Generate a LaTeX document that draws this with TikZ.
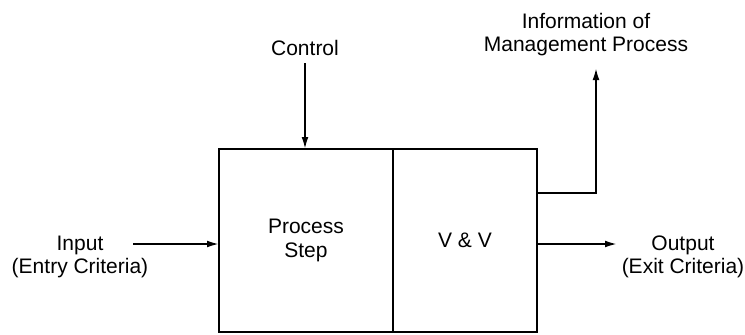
\documentclass[tikz,border=0pt]{standalone}
\usepackage{fontspec}
\setmainfont{Liberation Sans}
\usepackage{tikz}
\usetikzlibrary{arrows.meta,positioning}

\begin{document}
\begin{tikzpicture}[
  x=0.5pt, y=-0.5pt,
  part/.style={draw=black, line width=0.9pt, minimum height=91.5pt, inner sep=0pt, outer sep=0pt, align=center, font=\fontsize{10.5}{12}\selectfont},
  lbl/.style={align=center, inner sep=0pt, font=\fontsize{10.5}{11.5}\selectfont},
  arr/.style={-{Latex[length=6pt, width=3.4pt]}, line width=0.9pt, draw=black}
]
\useasboundingbox (0,0) rectangle (745,334);
\node[part, minimum width=87pt, anchor=north west] (proc) at (219,149) {Process\\Step};
\node[part, minimum width=72pt, right=0pt of proc] (vv) {\raisebox{-3.5pt}{V \& V}};
\node[lbl] (ctrl) at (305,48) {Control};
\node[lbl] (info) at (586,34.5) {Information of\\Management Process};
\node[lbl] (input) at (80,256.5) {Input\\(Entry Criteria)};
\node[lbl] (output) at (683,256.5) {Output\\(Exit Criteria)};
\coordinate (inS) at (133,244);
\coordinate (outE) at (617,244);
\coordinate (infoS) at (537,193);
\coordinate (infoE) at (596,68);
\draw[arr] (ctrl.south |- 0,63) -- (ctrl.south |- proc.north);
\draw[arr] (inS) -- (inS -| proc.west);
\draw[arr] (outE -| vv.east) -- (outE);
\draw[arr] (vv.east |- infoS) -| (infoE);
\end{tikzpicture}
\end{document}
